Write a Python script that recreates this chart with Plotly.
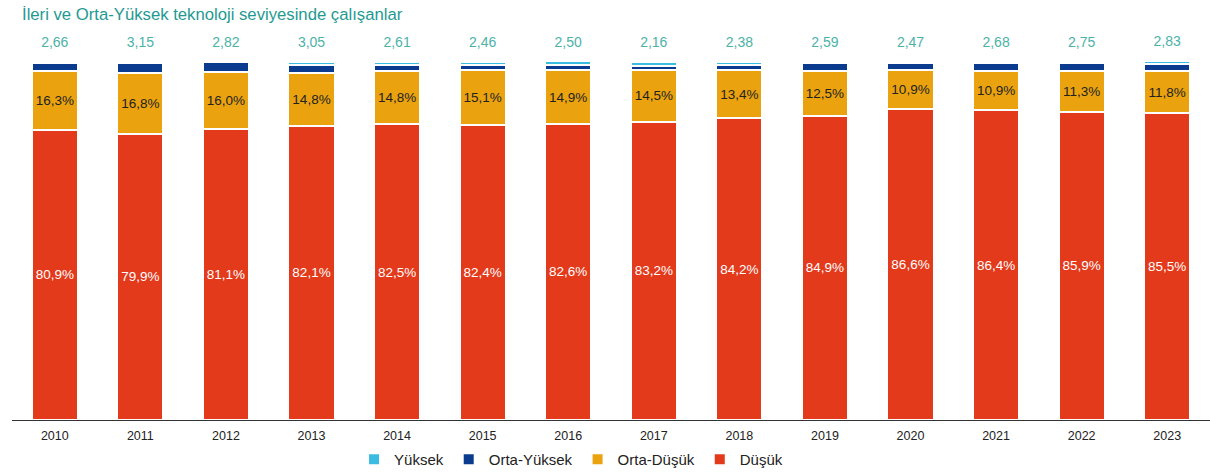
import plotly.graph_objects as go

years = ["2010", "2011", "2012", "2013", "2014", "2015", "2016",
         "2017", "2018", "2019", "2020", "2021", "2022", "2023"]
dusuk = [80.9, 79.9, 81.1, 82.1, 82.5, 82.4, 82.6, 83.2, 84.2, 84.9, 86.6, 86.4, 85.9, 85.5]
orta_dusuk = [16.3, 16.8, 16.0, 14.8, 14.8, 15.1, 14.9, 14.5, 13.4, 12.5, 10.9, 10.9, 11.3, 11.8]
yuksek = [0.2, 0.2, 0.2, 0.9, 1.0, 1.0, 1.0, 1.0, 1.0, 0.5, 0.4, 0.4, 0.4, 0.9]
top_labels = [2.66, 3.15, 2.82, 3.05, 2.61, 2.46, 2.50, 2.16, 2.38, 2.59, 2.47, 2.68, 2.75, 2.83]
orta_yuksek = [round(t - y, 2) for t, y in zip(top_labels, yuksek)]


def tr(v, nd=1, suffix="%"):
    return f"{v:.{nd}f}".replace(".", ",") + suffix


FONT = "Arial"
C_Y = "#3bbde3"
C_OY = "#0b3b8e"
C_OD = "#eaa30f"
C_D = "#e43a1c"
line = dict(color="white", width=2)

fig = go.Figure()
fig.add_trace(go.Bar(
    x=years, y=dusuk, name="Düşük", marker=dict(color=C_D, line=line),
    text=[tr(v) for v in dusuk], textposition="inside", insidetextanchor="middle",
    textangle=0,
    textfont=dict(color="white", size=13.5, family=FONT),
))
fig.add_trace(go.Bar(
    x=years, y=orta_dusuk, name="Orta-Düşük", marker=dict(color=C_OD, line=line),
    text=[tr(v) for v in orta_dusuk], textposition="inside", insidetextanchor="middle",
    textangle=0,
    textfont=dict(color="#222222", size=13.5, family=FONT),
))
fig.add_trace(go.Bar(
    x=years, y=orta_yuksek, name="Orta-Yüksek", marker=dict(color=C_OY, line=line),
))
fig.add_trace(go.Bar(
    x=years, y=yuksek, name="Yüksek", marker=dict(color=C_Y, line=line),
))

totals = [a + b + c + d for a, b, c, d in zip(dusuk, orta_dusuk, orta_yuksek, yuksek)]
fig.add_trace(go.Scatter(
    x=years, y=totals, mode="markers+text", text=[tr(v, 2, "") for v in top_labels],
    textposition="top center", cliponaxis=False, showlegend=False,
    marker=dict(size=16, color="rgba(0,0,0,0)"),
    textfont=dict(size=14, color="#4cb2a8", family=FONT), hoverinfo="skip",
))

fig.update_layout(
    width=1210, height=474,
    barmode="stack", bargap=0.46,
    plot_bgcolor="white", paper_bgcolor="white",
    margin=dict(l=12, r=0, t=60, b=51),
    font=dict(family=FONT, color="#222222"),
    title=dict(
        text="İleri ve Orta-Yüksek teknoloji seviyesinde çalışanlar",
        x=22 / 1210, xanchor="left", y=1 - 14 / 474, yanchor="middle",
        font=dict(size=16.7, color="#1f9a92", family=FONT),
    ),
    legend=dict(
        orientation="h", traceorder="reversed",
        x=0.2855, xanchor="left",
        yref="container", y=1 - 443 / 474, yanchor="top",
        font=dict(size=15, color="#222222", family=FONT),
    ),
    showlegend=True,
)
fig.update_xaxes(
    type="category", range=[-0.5, 13.5],
    showline=True, linecolor="#333333", linewidth=1,
    ticks="", ticklabelstandoff=4,
    tickfont=dict(size=12.5, color="#222222", family=FONT),
    showgrid=False,
)
fig.update_yaxes(range=[0, 100.4], showticklabels=False, showgrid=False, zeroline=False)

fig.write_html("out.html", config={"displayModeBar": False},
               post_script="document.body.style.margin='0';")
